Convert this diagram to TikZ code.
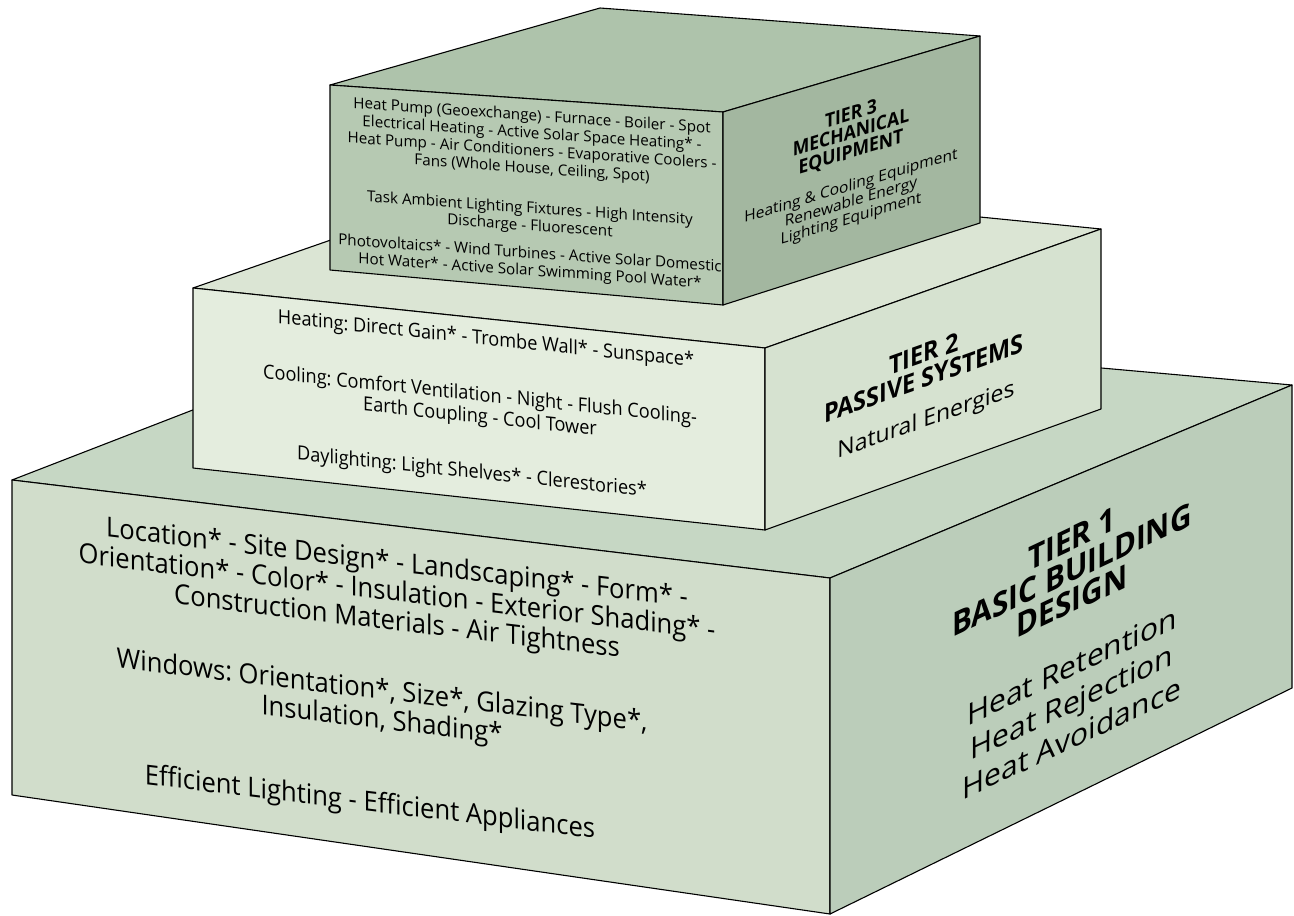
\documentclass[tikz,border=0pt]{standalone}
\usepackage{fontspec}
\setmainfont{Open Sans}
\newfontfamily\condfont{Open Sans}[FakeStretch=0.93]
\newfontfamily\condbold{Open Sans Bold}[FakeStretch=0.9]
\definecolor{tonefront}{HTML}{D1DDCB}
\definecolor{tonetop}{HTML}{C6D7C4}
\definecolor{toneright}{HTML}{BBCDBA}
\definecolor{ttwofront}{HTML}{E4EDDE}
\definecolor{ttwotop}{HTML}{DBE5D4}
\definecolor{ttworight}{HTML}{D6E2D0}
\definecolor{tthreefront}{HTML}{B6C9B2}
\definecolor{tthreetop}{HTML}{AEC3AB}
\definecolor{tthreeright}{HTML}{A3B7A0}
\begin{document}
\frenchspacing
\begin{tikzpicture}[x=1pt,y=-1pt,
  face/.style={draw=black,line width=1.1pt,line join=round},
  txt/.style={inner sep=0pt,align=center,text=black},
  tierthreetxt/.style={txt,yslant=-0.07,font=\frenchspacing\fontsize{15.2}{17.5}\selectfont},
  tierthreehead/.style={txt,yslant=0.3,font=\frenchspacing\condbold\fontsize{19.5}{19}\selectfont},
  tierthreesub/.style={txt,yslant=0.3,font=\frenchspacing\fontsize{15.5}{16.5}\selectfont},
  tiertwotxt/.style={txt,yslant=-0.105,font=\frenchspacing\condfont\fontsize{19.5}{22}\selectfont},
  tiertwohead/.style={txt,yslant=0.355,font=\frenchspacing\condbold\fontsize{26}{25}\selectfont},
  tiertwosub/.style={txt,yslant=0.355,font=\frenchspacing\fontsize{23}{24}\selectfont},
  tieronetxt/.style={txt,yslant=-0.12,font=\frenchspacing\condfont\fontsize{27.5}{29.5}\selectfont},
  tieronehead/.style={txt,yslant=0.47,font=\frenchspacing\condbold\fontsize{33}{31}\selectfont},
  tieronesub/.style={txt,yslant=0.47,font=\frenchspacing\fontsize{30}{36}\selectfont}]
\useasboundingbox (0,0) rectangle (1294,916);
% ---------- Tier 1 ----------
\coordinate (a1) at (12,480);
\coordinate (b1) at (830,578);
\coordinate (c1) at (1292,385);
\coordinate (d1) at (451,310);
\coordinate (e1) at (12,795);
\coordinate (f1) at (830,914);
\coordinate (g1) at (1292,688);
\filldraw[face,fill=tonetop] (a1)--(b1)--(c1)--(d1)--cycle;
\filldraw[face,fill=tonefront] (a1)--(b1)--(f1)--(e1)--cycle;
\filldraw[face,fill=toneright] (b1)--(c1)--(g1)--(f1)--cycle;
% ---------- Tier 2 ----------
\coordinate (a2) at (193,288);
\coordinate (b2) at (765,348);
\coordinate (c2) at (1101,229);
\coordinate (d2) at (526,172);
\coordinate (e2) at (193,468);
\coordinate (f2) at (765,530);
\coordinate (g2) at (1101,409);
\filldraw[face,fill=ttwotop] (a2)--(b2)--(c2)--(d2)--cycle;
\filldraw[face,fill=ttwofront] (a2)--(b2)--(f2)--(e2)--cycle;
\filldraw[face,fill=ttworight] (b2)--(c2)--(g2)--(f2)--cycle;
% ---------- Tier 3 ----------
\coordinate (a3) at (330,85);
\coordinate (b3) at (723,112);
\coordinate (c3) at (980,36);
\coordinate (d3) at (600,8);
\coordinate (e3) at (330,270);
\coordinate (f3) at (723,305);
\coordinate (g3) at (980,223);
\filldraw[face,fill=tthreetop] (a3)--(b3)--(c3)--(d3)--cycle;
\filldraw[face,fill=tthreefront] (a3)--(b3)--(f3)--(e3)--cycle;
\filldraw[face,fill=tthreeright] (b3)--(c3)--(g3)--(f3)--cycle;
% ---------- Tier 3 texts ----------
\node[tierthreetxt] (t3a) at (532,143) {Heat Pump (Geoexchange) - Furnace - Boiler - Spot\\Electrical Heating - Active Solar Space Heating* -\\Heat Pump - Air Conditioners - Evaporative Coolers -\\Fans (Whole House, Ceiling, Spot)};
\node[tierthreetxt] (t3b) at (530,218) {Task Ambient Lighting Fixtures - High Intensity\\Discharge - Fluorescent};
\node[tierthreetxt] (t3c) at (530,263) {Photovoltaics* - Wind Turbines - Active Solar Domestic\\Hot Water* - Active Solar Swimming Pool Water*};
\node[tierthreehead] (t3h) at (851,134) {TIER 3\\MECHANICAL\\EQUIPMENT};
\node[tierthreesub] (t3s) at (851,203) {Heating \& Cooling Equipment\\Renewable Energy\\Lighting Equipment};
% ---------- Tier 2 texts ----------
\node[tiertwotxt] (t2a) at (486,340) {Heating: Direct Gain* - Trombe Wall* - Sunspace*};
\node[tiertwotxt] (t2b) at (480,407) {Cooling: Comfort Ventilation - Night - Flush Cooling-\\Earth Coupling - Cool Tower};
\node[tiertwotxt] (t2c) at (472,473) {Daylighting: Light Shelves* - Clerestories*};
\node[tiertwohead] (t2h) at (924,366) {TIER 2\\PASSIVE SYSTEMS};
\node[tiertwosub] (t2s) at (926,421) {Natural Energies};
% ---------- Tier 1 texts ----------
\node[tieronetxt] (t1a) at (397,594) {Location* - Site Design* - Landscaping* - Form* -\\Orientation* - Color* - Insulation - Exterior Shading* -\\Construction Materials - Air Tightness};
\node[tieronetxt] (t1b) at (382,707) {Windows: Orientation*, Size*, Glazing Type*,\\Insulation, Shading*};
\node[tieronetxt] (t1c) at (370,804) {Efficient Lighting - Efficient Appliances};
\node[tieronehead] (t1h) at (1072,570) {TIER 1\\BASIC BUILDING\\DESIGN};
\node[tieronesub] (t1s) at (1072,702) {Heat Retention\\Heat Rejection\\Heat Avoidance};
\end{tikzpicture}
\end{document}
